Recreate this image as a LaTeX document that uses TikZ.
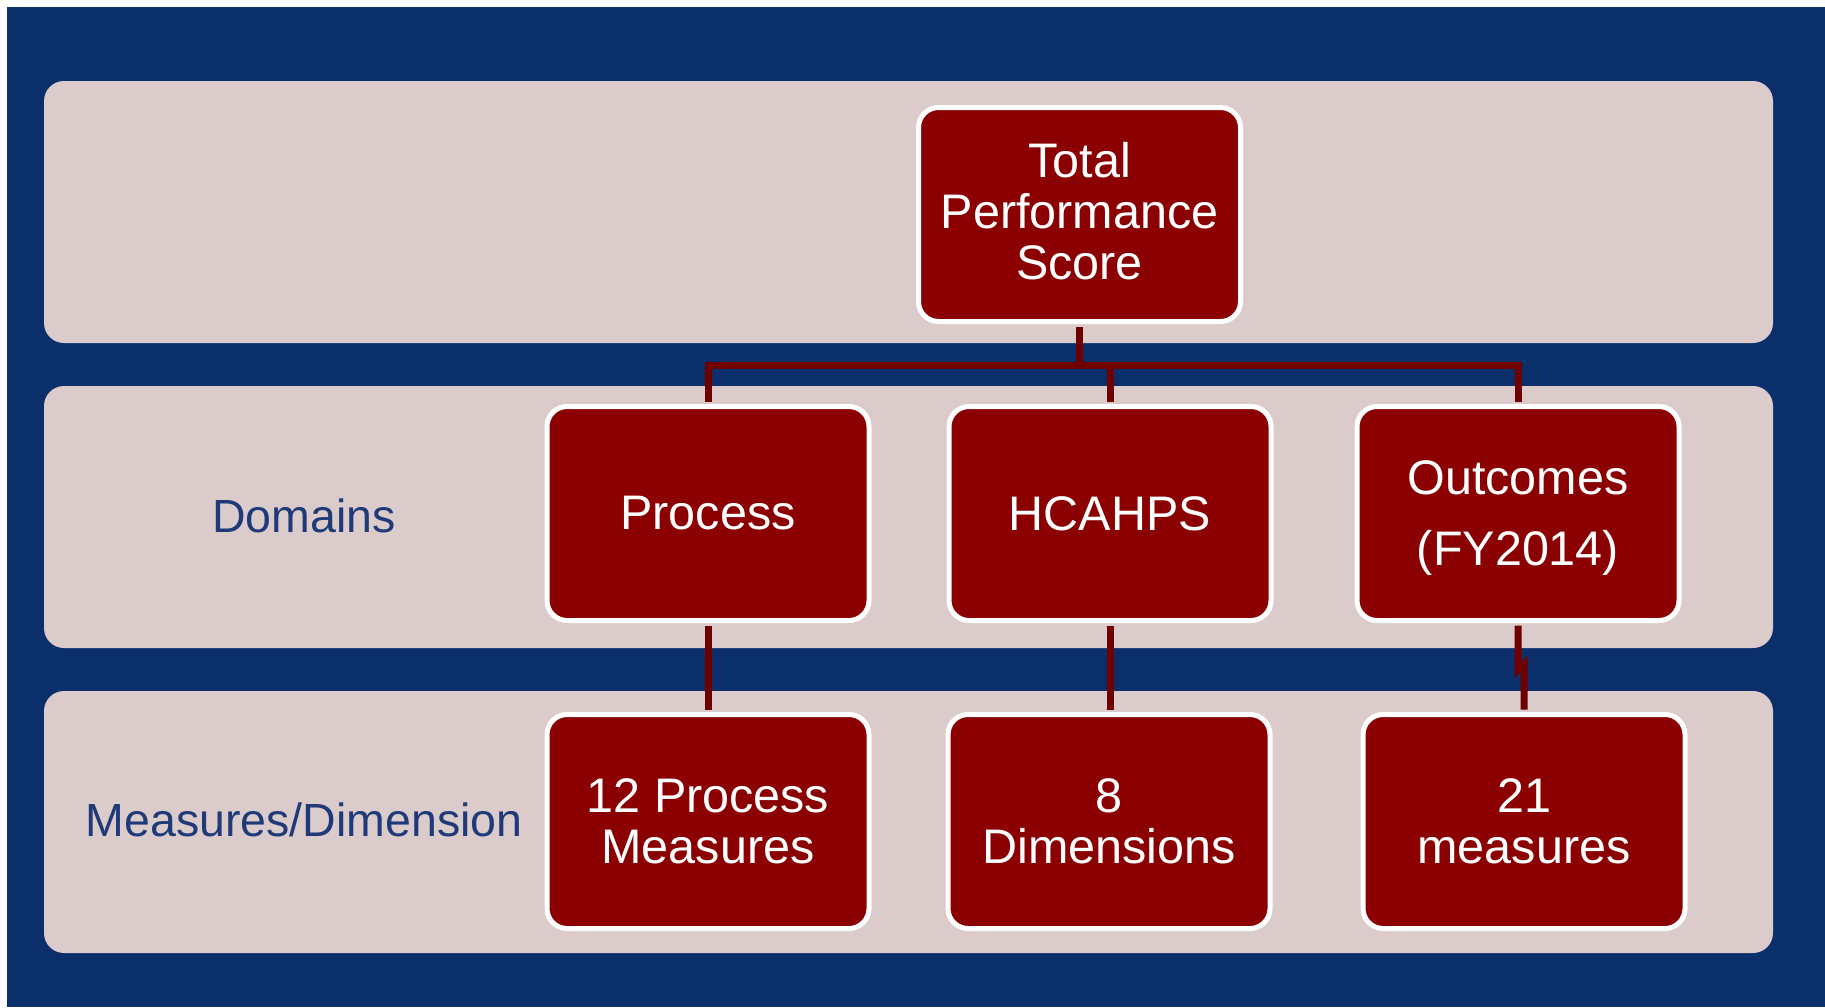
\documentclass[tikz,border=0pt]{standalone}
\usepackage{fontspec}
\setmainfont{Liberation Sans}
\definecolor{pageblue}{HTML}{0A2F6B}
\definecolor{bandpink}{HTML}{DBCBCB}
\definecolor{boxred}{HTML}{8B0000}
\definecolor{linkred}{HTML}{6E0000}
\definecolor{labelblue}{HTML}{1E3A78}
\begin{document}
\begin{tikzpicture}[x=1pt,y=-1pt,
  band/.style={fill=bandpink, rounded corners=20pt},
  tier/.style={draw=white, line width=5pt, fill=boxred, rounded corners=20pt,
    minimum width=322pt, minimum height=214pt, inner sep=0pt, align=center,
    text=white, font=\fontsize{48.5}{51}\selectfont},
  rowlabel/.style={text=labelblue, inner sep=0pt, font=\fontsize{46.5}{50}\selectfont},
  link/.style={draw=linkred, line width=7pt}]
  % page and background
  \useasboundingbox (0,0) rectangle (1825,1007);
  \fill[white] (0,0) rectangle (1825,1007);
  \fill[pageblue] (7,7) rectangle (1825,1007);
  % three horizontal bands
  \fill[band] (44,81) rectangle (1773,343);
  \fill[band] (44,386) rectangle (1773,648);
  \fill[band] (44,691) rectangle (1773,953);
  % row labels
  \node[rowlabel] (lblDomains) at (304,516) {Domains};
  \node[rowlabel] (lblMeasures) at (304,820) {Measures/Dimension};
  % boxes
  \node[tier, text depth=7pt] (total) at (1079.5,214.5) {Total\\Performance\\Score};
  \node[tier] (process) at (708,513.5) {Process};
  \node[tier] (hcahps) at (1110,513.5) {HCAHPS};
  \node[tier, text depth=-8pt] (outcomes) at (1518,513.5) {Outcomes\\[20pt](FY2014)};
  \node[tier] (procmeas) at (708,821.5) {12 Process\\Measures};
  \node[tier] (dims) at (1109,821.5) {8\\Dimensions};
  \node[tier] (outmeas) at (1524,821.5) {21\\measures};
  % connectors
  \coordinate (bus) at (0,365);
  \coordinate (jog) at (0,667);
  \draw[link, line cap=rect] (process.north |- bus) -- (outcomes.north |- bus);
  \draw[link, shorten <=2.5pt] (total.south) -- (total.south |- bus);
  \draw[link, shorten <=2.5pt] (process.north) -- (process.north |- bus);
  \draw[link, shorten <=2.5pt] (hcahps.north) -- (hcahps.north |- bus);
  \draw[link, shorten <=2.5pt] (outcomes.north) -- (outcomes.north |- bus);
  \draw[link, shorten <=2.5pt, shorten >=2.5pt] (process.south) -- (procmeas.north);
  \draw[link, shorten <=2.5pt, shorten >=2.5pt] (hcahps.south) -- (hcahps.south |- dims.north);
  \draw[link, shorten <=2.5pt, shorten >=2.5pt] (outcomes.south)
    -- ([yshift=-3pt]outcomes.south |- jog) -- ([yshift=3pt]outmeas.north |- jog) -- (outmeas.north);
\end{tikzpicture}
\end{document}
